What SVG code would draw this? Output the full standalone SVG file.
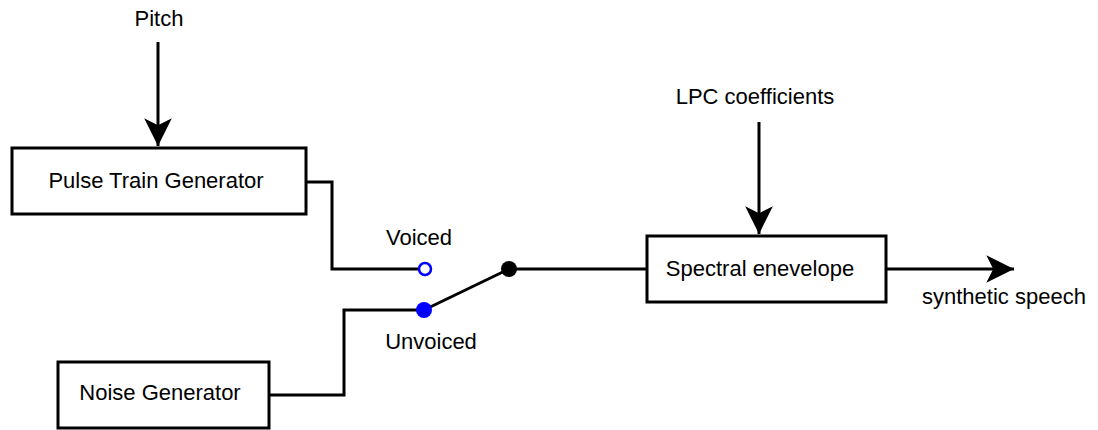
<svg xmlns="http://www.w3.org/2000/svg" width="1098" height="430" viewBox="0 0 1098 430">
  <style>
    .box { fill: #ffffff; stroke: #000000; stroke-width: 3; }
    .wire { fill: none; stroke: #000000; stroke-width: 3; }
    .lbl { font-family: "Liberation Sans", Arial, sans-serif; font-size: 22px; fill: #000000; }
    .mid { text-anchor: middle; }
  </style>
  <defs>
    <marker id="arrow" markerUnits="userSpaceOnUse" markerWidth="30" markerHeight="30" viewBox="0 0 26 26" refX="24" refY="13" orient="auto">
      <path d="M24,13 L0,1 L6,13 L0,25 Z" fill="#000000"/>
    </marker>
  </defs>
  <rect width="1098" height="430" fill="#ffffff"/>

  <g id="connectors">
    <!-- pitch input -->
    <line class="wire" x1="158" y1="42" x2="158" y2="146" marker-end="url(#arrow)"/>
    <!-- LPC coefficients input -->
    <line class="wire" x1="759" y1="122" x2="759" y2="234" marker-end="url(#arrow)"/>
    <!-- pulse train to voiced contact -->
    <polyline class="wire" points="306,182 332,182 332,269 419,269"/>
    <!-- noise to unvoiced contact -->
    <polyline class="wire" points="269,395 344,395 344,310 424,310"/>
    <!-- switch blade -->
    <line class="wire" x1="424" y1="310" x2="509" y2="269"/>
    <!-- switch to spectral envelope -->
    <line class="wire" x1="509" y1="269" x2="647" y2="269"/>
    <!-- output -->
    <line class="wire" x1="886" y1="269" x2="1014" y2="269" marker-end="url(#arrow)"/>
  </g>

  <g id="pitch">
    <text class="lbl mid" x="159" y="26">Pitch</text>
  </g>

  <g id="pulse-train">
    <rect class="box" x="12" y="148" width="294" height="66"/>
    <text class="lbl mid" x="156" y="188">Pulse Train Generator</text>
  </g>

  <g id="noise">
    <rect class="box" x="58" y="362" width="211" height="66"/>
    <text class="lbl mid" x="160" y="400">Noise Generator</text>
  </g>

  <g id="switch">
    <text class="lbl mid" x="419" y="245">Voiced</text>
    <circle cx="425" cy="269" r="6" fill="#ffffff" stroke="#0000ff" stroke-width="2.5"/>
    <circle cx="424" cy="310" r="8" fill="#0000ff"/>
    <circle cx="509" cy="269" r="8" fill="#000000"/>
    <text class="lbl mid" x="431" y="349">Unvoiced</text>
  </g>

  <g id="lpc">
    <text class="lbl mid" x="755" y="104">LPC coefficients</text>
  </g>

  <g id="spectral">
    <rect class="box" x="647" y="236" width="239" height="66"/>
    <text class="lbl mid" x="760" y="276">Spectral enevelope</text>
  </g>

  <g id="output">
    <text class="lbl" x="922" y="304">synthetic speech</text>
  </g>
</svg>
